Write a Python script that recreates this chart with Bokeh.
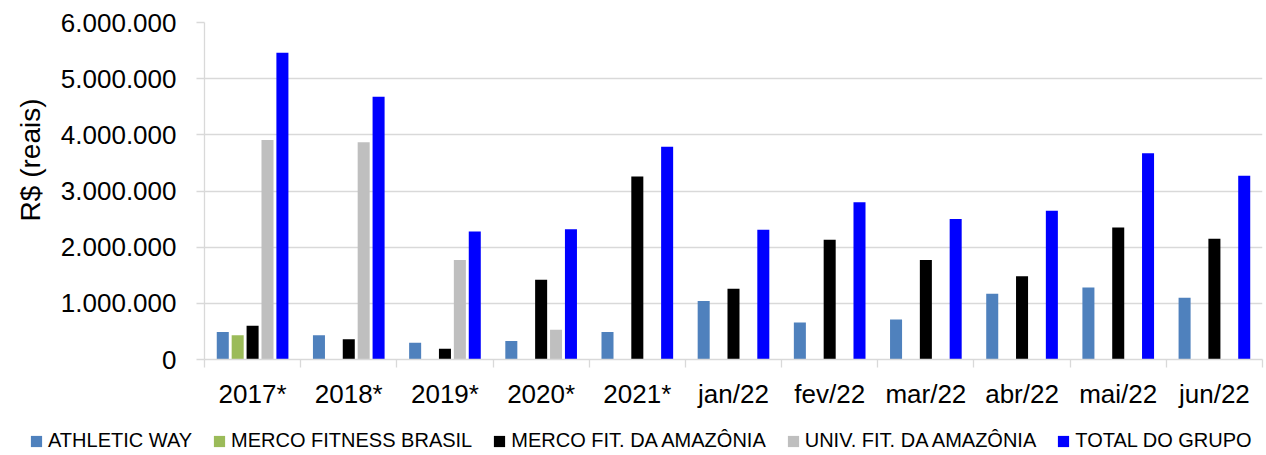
from bokeh.plotting import figure
from bokeh.layouts import column
from bokeh.models import ColumnDataSource, Range1d, FixedTicker, Legend, LegendItem, Title
from bokeh.transform import dodge
from bokeh.embed import file_html
from bokeh.resources import INLINE

categories = ["2017*", "2018*", "2019*", "2020*", "2021*", "jan/22", "fev/22",
              "mar/22", "abr/22", "mai/22", "jun/22"]
athletic_way = [490000, 430000, 300000, 330000, 490000, 1040000, 660000, 710000, 1170000, 1280000, 1100000]
merco_fitness_brasil = [430000, 0, 0, 0, 0, 0, 0, 0, 0, 0, 0]
merco_fit_amazonia = [600000, 360000, 190000, 1420000, 3260000, 1260000, 2130000, 1770000, 1480000, 2350000, 2150000]
univ_fit_amazonia = [3910000, 3870000, 1770000, 530000, 10000, 0, 0, 0, 0, 0, 0]
total_grupo = [5460000, 4680000, 2280000, 2320000, 3790000, 2310000, 2800000, 2500000, 2650000, 3670000, 3270000]

series_names = ["ATHLETIC WAY", "MERCO FITNESS BRASIL", "MERCO FIT. DA AMAZÔNIA",
                "UNIV. FIT. DA AMAZÔNIA", "TOTAL DO GRUPO"]
series_colors = ["#4F81BD", "#9BBB59", "#000000", "#BFBFBF", "#0000FF"]

y_tick_values = [0, 1000000, 2000000, 3000000, 4000000, 5000000, 6000000]
y_tick_labels = ["0", "1.000.000", "2.000.000", "3.000.000", "4.000.000", "5.000.000", "6.000.000"]
y_axis_title = "R$ (reais)"

FONT = "Liberation Sans"

n = len(categories)
centers = [i + 0.5 for i in range(n)]
source = ColumnDataSource(dict(
    x=centers,
    aw=athletic_way,
    mfb=merco_fitness_brasil,
    mfa=merco_fit_amazonia,
    ufa=univ_fit_amazonia,
    tot=total_grupo,
))
cols = ["aw", "mfb", "mfa", "ufa", "tot"]
offsets = [-0.31, -0.155, 0.0, 0.155, 0.31]

p = figure(width=1264, height=420,
           x_range=Range1d(0, n), y_range=Range1d(0, 6000000),
           output_backend="svg", toolbar_location=None,
           min_border_left=203, min_border_right=2,
           min_border_top=22, min_border_bottom=61)
p.frame_align = False
p.outline_line_color = None
p.background_fill_color = "white"
p.xgrid.visible = False
p.ygrid.grid_line_color = "#D9D9D9"
p.ygrid.grid_line_width = 1.3
p.ygrid.ticker = FixedTicker(ticks=y_tick_values)

for col, off, color in zip(cols, offsets, series_colors):
    p.vbar(x=dodge("x", off), top=col, width=0.125, source=source,
           fill_color=color, line_color=None)

# y axis
yax = p.yaxis[0]
yax.ticker = FixedTicker(ticks=y_tick_values)
yax.major_label_overrides = {v: s for v, s in zip(y_tick_values, y_tick_labels)}
yax.axis_line_color = "#D9D9D9"
yax.axis_line_width = 1.3
yax.major_tick_line_color = "#D9D9D9"
yax.major_tick_line_width = 1.3
yax.major_tick_out = 8
yax.major_tick_in = 0
yax.minor_tick_line_color = None
yax.major_label_text_font = FONT
yax.major_label_text_font_size = "26px"
yax.major_label_text_color = "#000000"
yax.major_label_standoff = 20

# x axis
xax = p.xaxis[0]
xax.ticker = FixedTicker(ticks=centers, minor_ticks=list(range(n + 1)))
xax.major_label_overrides = {c: s for c, s in zip(centers, categories)}
xax.axis_line_color = "#D9D9D9"
xax.axis_line_width = 1.3
xax.major_tick_line_color = None
xax.major_tick_out = 0
xax.major_tick_in = 0
xax.minor_tick_line_color = "#D9D9D9"
xax.minor_tick_line_width = 1.3
xax.minor_tick_out = 8
xax.minor_tick_in = 0
xax.major_label_text_font = FONT
xax.major_label_text_font_size = "26px"
xax.major_label_text_color = "#000000"
xax.major_label_standoff = 11

# y title
title_kw = dict(text=y_axis_title, align="right", offset=76,
                text_font=FONT, text_font_size="28px", text_font_style="normal",
                text_color="#000000")
if "standoff" in Title.properties():
    title_kw["standoff"] = 24
else:
    title_kw["padding"] = 7
p.add_layout(Title(**title_kw), "left")

# legend strip: its own small figure; its keys come from zero-size bars of the same data
lg = figure(width=1264, height=33, x_range=Range1d(0, n), y_range=Range1d(0, 6000000),
            output_backend="svg", toolbar_location=None,
            x_axis_location=None, y_axis_location=None,
            min_border_left=0, min_border_right=0, min_border_top=0, min_border_bottom=0)
lg.frame_align = False
lg.outline_line_color = None
lg.grid.visible = False
lg_renderers = []
for col, off, color in zip(cols, offsets, series_colors):
    lg_renderers.append(lg.vbar(x=dodge("x", off), top=col, bottom=col, width=0, source=source,
                                fill_color=color, line_color=None))

legend = Legend(items=[LegendItem(label=nm, renderers=[r]) for nm, r in zip(series_names, lg_renderers)],
                orientation="horizontal", location=(29, 1),
                label_text_font=FONT, label_text_font_size="20px",
                label_text_color="#000000",
                glyph_width=14, glyph_height=14, label_standoff=5, spacing=20,
                padding=0, margin=0, border_line_color=None,
                background_fill_alpha=0, label_height=20)
lg.add_layout(legend)

layout = column(p, lg)
open("out.html", "w").write(file_html(layout, INLINE))
